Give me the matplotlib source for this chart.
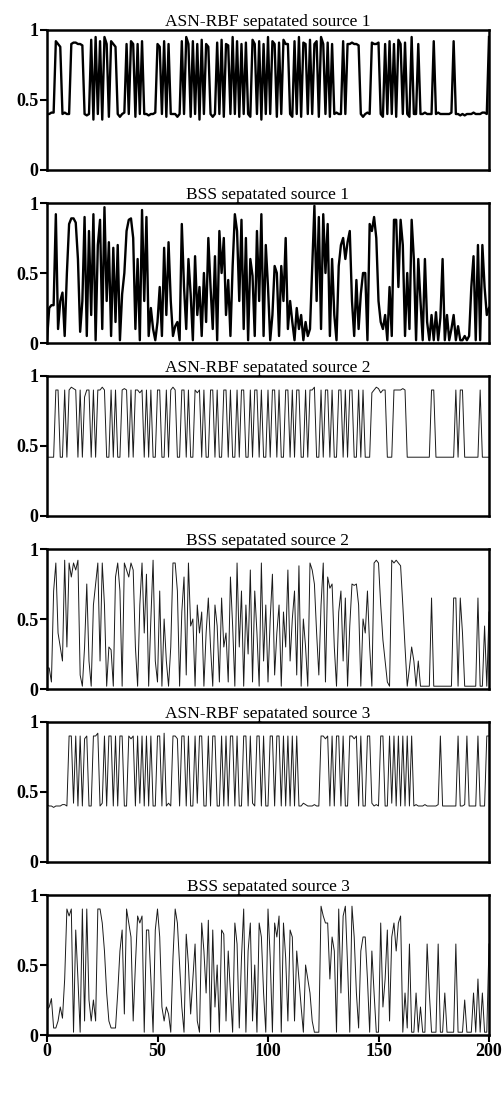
import matplotlib
matplotlib.use("Agg")
import matplotlib.pyplot as plt
import numpy as np

# ============ values (sample index 0..200) ============

asn_1 = [0.40,0.40,0.41,0.41,0.92,0.90,0.88,0.40,0.41,0.40,
         0.40,0.90,0.91,0.91,0.90,0.90,0.89,0.40,0.39,0.40,
         0.93,0.36,0.95,0.40,0.92,0.36,0.95,0.90,0.38,0.92,
         0.90,0.88,0.40,0.38,0.40,0.41,0.90,0.40,0.92,0.90,
         0.38,0.90,0.40,0.92,0.40,0.40,0.39,0.40,0.40,0.41,
         0.90,0.88,0.40,0.92,0.38,0.90,0.40,0.40,0.40,0.38,
         0.40,0.92,0.40,0.95,0.90,0.38,0.92,0.40,0.90,0.36,
         0.93,0.40,0.90,0.88,0.40,0.38,0.40,0.91,0.40,0.93,
         0.38,0.90,0.89,0.40,0.95,0.40,0.92,0.38,0.90,0.40,
         0.91,0.40,0.38,0.93,0.90,0.40,0.92,0.36,0.90,0.40,
         0.95,0.40,0.92,0.90,0.38,0.91,0.40,0.93,0.90,0.90,
         0.40,0.38,0.92,0.40,0.95,0.38,0.91,0.90,0.40,0.93,
         0.40,0.90,0.92,0.38,0.95,0.90,0.40,0.91,0.38,0.90,
         0.40,0.41,0.40,0.40,0.92,0.40,0.90,0.90,0.91,0.90,
         0.90,0.89,0.40,0.38,0.40,0.41,0.40,0.91,0.90,0.90,
         0.91,0.40,0.38,0.90,0.40,0.92,0.40,0.90,0.38,0.93,
         0.90,0.40,0.91,0.40,0.38,0.95,0.40,0.40,0.90,0.40,
         0.40,0.41,0.40,0.40,0.40,0.92,0.40,0.41,0.40,0.40,
         0.40,0.40,0.40,0.41,0.92,0.40,0.40,0.39,0.40,0.39,
         0.40,0.40,0.40,0.41,0.40,0.40,0.40,0.41,0.41,0.40,
         0.95]

bss_1 = [0.02,0.25,0.27,0.27,0.92,0.10,0.30,0.36,0.05,0.50,
         0.85,0.89,0.89,0.86,0.60,0.08,0.30,0.90,0.05,0.80,
         0.20,0.92,0.02,0.70,0.88,0.10,0.97,0.30,0.72,0.05,
         0.68,0.15,0.70,0.02,0.35,0.50,0.80,0.88,0.89,0.75,
         0.10,0.60,0.02,0.95,0.30,0.90,0.05,0.25,0.10,0.02,
         0.15,0.40,0.05,0.68,0.20,0.72,0.30,0.05,0.12,0.15,
         0.02,0.85,0.40,0.10,0.60,0.35,0.02,0.62,0.20,0.40,
         0.05,0.50,0.15,0.75,0.40,0.10,0.62,0.02,0.80,0.50,
         0.75,0.20,0.45,0.05,0.55,0.92,0.80,0.30,0.88,0.10,
         0.75,0.02,0.60,0.48,0.05,0.80,0.30,0.92,0.05,0.70,
         0.40,0.02,0.20,0.55,0.50,0.05,0.55,0.30,0.75,0.10,
         0.30,0.15,0.02,0.25,0.10,0.20,0.02,0.15,0.05,0.10,
         0.55,0.98,0.30,0.90,0.10,0.92,0.50,0.85,0.05,0.60,
         0.20,0.02,0.55,0.70,0.75,0.60,0.72,0.80,0.30,0.05,
         0.45,0.10,0.35,0.50,0.50,0.02,0.85,0.80,0.90,0.75,
         0.30,0.15,0.10,0.20,0.02,0.40,0.05,0.88,0.88,0.40,
         0.88,0.70,0.05,0.50,0.10,0.88,0.60,0.02,0.60,0.30,
         0.02,0.60,0.15,0.02,0.20,0.02,0.22,0.02,0.18,0.60,
         0.02,0.20,0.02,0.10,0.20,0.02,0.12,0.02,0.02,0.05,
         0.02,0.05,0.40,0.62,0.02,0.70,0.02,0.70,0.40,0.20,
         0.25]

asn_2 = [0.42,0.42,0.42,0.42,0.90,0.90,0.42,0.42,0.90,0.42,
         0.90,0.92,0.91,0.90,0.42,0.90,0.42,0.85,0.90,0.90,
         0.42,0.90,0.42,0.90,0.90,0.92,0.90,0.42,0.42,0.90,
         0.42,0.90,0.42,0.42,0.90,0.91,0.90,0.42,0.90,0.42,
         0.90,0.90,0.88,0.90,0.42,0.90,0.42,0.90,0.42,0.42,
         0.90,0.90,0.42,0.42,0.90,0.42,0.90,0.92,0.90,0.42,
         0.42,0.90,0.90,0.42,0.90,0.42,0.42,0.90,0.88,0.90,
         0.42,0.90,0.42,0.42,0.90,0.90,0.42,0.90,0.42,0.42,
         0.90,0.90,0.42,0.90,0.42,0.42,0.90,0.42,0.90,0.90,
         0.42,0.42,0.90,0.42,0.90,0.90,0.42,0.90,0.42,0.42,
         0.90,0.42,0.90,0.90,0.42,0.90,0.42,0.42,0.90,0.90,
         0.42,0.90,0.42,0.90,0.90,0.42,0.42,0.90,0.42,0.90,
         0.90,0.92,0.42,0.42,0.90,0.42,0.90,0.90,0.42,0.90,
         0.42,0.42,0.90,0.90,0.42,0.90,0.42,0.90,0.90,0.42,
         0.42,0.90,0.42,0.90,0.42,0.42,0.42,0.88,0.90,0.92,
         0.91,0.88,0.90,0.90,0.42,0.42,0.42,0.90,0.90,0.90,
         0.90,0.91,0.90,0.42,0.42,0.42,0.42,0.42,0.42,0.42,
         0.42,0.42,0.42,0.42,0.90,0.90,0.42,0.42,0.42,0.42,
         0.42,0.42,0.42,0.42,0.42,0.90,0.42,0.90,0.90,0.42,
         0.42,0.42,0.42,0.42,0.42,0.42,0.90,0.42,0.42,0.42,
         0.42]

bss_2 = [0.15,0.15,0.05,0.70,0.90,0.40,0.30,0.20,0.92,0.30,
         0.90,0.80,0.90,0.85,0.92,0.10,0.02,0.30,0.75,0.20,
         0.02,0.60,0.75,0.90,0.20,0.90,0.60,0.02,0.30,0.28,
         0.02,0.80,0.90,0.70,0.02,0.90,0.85,0.80,0.90,0.85,
         0.30,0.02,0.60,0.90,0.40,0.82,0.02,0.50,0.92,0.20,
         0.05,0.70,0.02,0.50,0.20,0.02,0.30,0.90,0.90,0.70,
         0.02,0.55,0.80,0.10,0.90,0.45,0.50,0.02,0.60,0.40,
         0.55,0.02,0.40,0.65,0.30,0.02,0.60,0.45,0.05,0.65,
         0.30,0.40,0.05,0.80,0.45,0.02,0.90,0.30,0.70,0.02,
         0.60,0.25,0.85,0.05,0.70,0.40,0.02,0.90,0.20,0.60,
         0.05,0.50,0.82,0.10,0.40,0.60,0.02,0.55,0.30,0.85,
         0.20,0.50,0.70,0.10,0.88,0.02,0.50,0.30,0.02,0.90,
         0.85,0.75,0.40,0.10,0.60,0.90,0.05,0.80,0.72,0.75,
         0.30,0.02,0.55,0.70,0.20,0.65,0.02,0.45,0.75,0.74,
         0.75,0.60,0.02,0.50,0.40,0.70,0.30,0.02,0.90,0.92,
         0.90,0.60,0.35,0.20,0.05,0.02,0.92,0.90,0.92,0.90,
         0.88,0.60,0.30,0.02,0.15,0.30,0.20,0.02,0.20,0.02,
         0.02,0.02,0.02,0.02,0.65,0.02,0.02,0.02,0.02,0.02,
         0.02,0.02,0.02,0.02,0.65,0.65,0.02,0.65,0.40,0.02,
         0.02,0.02,0.02,0.02,0.02,0.65,0.02,0.02,0.45,0.02,
         0.55]

asn_3 = [0.41,0.40,0.40,0.39,0.40,0.40,0.40,0.41,0.41,0.40,
         0.90,0.90,0.42,0.90,0.40,0.90,0.40,0.88,0.90,0.40,
         0.40,0.90,0.90,0.92,0.40,0.42,0.90,0.40,0.90,0.90,
         0.40,0.90,0.40,0.90,0.90,0.40,0.40,0.90,0.88,0.90,
         0.40,0.90,0.42,0.90,0.40,0.90,0.40,0.90,0.40,0.40,
         0.90,0.90,0.40,0.92,0.40,0.42,0.40,0.90,0.90,0.88,
         0.40,0.90,0.90,0.40,0.90,0.40,0.40,0.90,0.42,0.90,
         0.90,0.40,0.40,0.90,0.40,0.90,0.90,0.40,0.40,0.90,
         0.40,0.90,0.40,0.90,0.90,0.40,0.90,0.40,0.40,0.90,
         0.90,0.40,0.90,0.42,0.40,0.90,0.90,0.40,0.90,0.40,
         0.40,0.90,0.90,0.40,0.90,0.90,0.40,0.90,0.40,0.90,
         0.40,0.90,0.40,0.90,0.40,0.40,0.42,0.41,0.40,0.40,
         0.40,0.41,0.40,0.40,0.90,0.90,0.88,0.90,0.40,0.90,
         0.40,0.90,0.90,0.40,0.90,0.40,0.40,0.90,0.90,0.88,
         0.90,0.40,0.90,0.40,0.40,0.90,0.90,0.42,0.40,0.41,
         0.40,0.90,0.90,0.40,0.40,0.90,0.42,0.90,0.40,0.90,
         0.40,0.90,0.40,0.90,0.40,0.90,0.40,0.41,0.40,0.40,
         0.40,0.41,0.40,0.40,0.40,0.40,0.40,0.41,0.90,0.40,
         0.40,0.40,0.40,0.40,0.40,0.40,0.90,0.40,0.40,0.41,
         0.90,0.40,0.40,0.40,0.40,0.90,0.40,0.40,0.40,0.90,
         0.90]

bss_3 = [0.18,0.20,0.26,0.05,0.05,0.10,0.20,0.12,0.40,0.90,
         0.85,0.90,0.02,0.75,0.40,0.02,0.90,0.10,0.90,0.25,
         0.10,0.25,0.10,0.90,0.90,0.80,0.60,0.30,0.10,0.05,
         0.05,0.05,0.30,0.60,0.75,0.15,0.90,0.80,0.70,0.10,
         0.50,0.85,0.80,0.85,0.02,0.75,0.75,0.40,0.02,0.75,
         0.90,0.70,0.20,0.10,0.20,0.15,0.02,0.55,0.90,0.80,
         0.50,0.20,0.02,0.72,0.50,0.15,0.40,0.65,0.10,0.02,
         0.80,0.60,0.30,0.82,0.02,0.75,0.20,0.50,0.02,0.75,
         0.72,0.10,0.60,0.30,0.02,0.80,0.65,0.05,0.55,0.90,
         0.02,0.60,0.80,0.10,0.50,0.02,0.80,0.70,0.30,0.02,
         0.90,0.55,0.02,0.80,0.70,0.85,0.02,0.80,0.55,0.10,
         0.75,0.70,0.10,0.60,0.40,0.20,0.02,0.50,0.40,0.30,
         0.10,0.02,0.02,0.02,0.92,0.85,0.80,0.80,0.40,0.70,
         0.60,0.02,0.90,0.30,0.85,0.92,0.50,0.02,0.92,0.70,
         0.30,0.05,0.60,0.70,0.70,0.40,0.02,0.60,0.30,0.02,
         0.02,0.80,0.20,0.40,0.75,0.10,0.70,0.80,0.60,0.80,
         0.85,0.02,0.30,0.05,0.65,0.02,0.02,0.30,0.02,0.20,
         0.02,0.02,0.65,0.30,0.02,0.02,0.02,0.65,0.02,0.02,
         0.30,0.02,0.02,0.02,0.02,0.65,0.02,0.02,0.02,0.25,
         0.02,0.02,0.02,0.30,0.02,0.40,0.02,0.30,0.02,0.02,
         0.65]

titles = ["ASN-RBF sepatated source 1", "BSS sepatated source 1",
          "ASN-RBF sepatated source 2", "BSS sepatated source 2",
          "ASN-RBF sepatated source 3", "BSS sepatated source 3"]
series = [asn_1, bss_1, asn_2, bss_2, asn_3, bss_3]
widths = [1.7, 1.7, 0.7, 0.7, 0.7, 0.7]
colors = ['black', 'black', '#1a1a1a', '#1a1a1a', '#1a1a1a', '#1a1a1a']

plt.rcParams['font.family'] = ['Liberation Serif', 'DejaVu Serif']

# ================= layout in pixels of a 503x1102 picture =================
W, H = 503, 1102
fig = plt.figure(figsize=(W/100, H/100), dpi=100)

left, right = 47, 489
top0, panel_h, step = 30, 140, 173

for i in range(6):
    y = np.array(series[i])
    x = np.arange(len(y)) * 200.0 / (len(y) - 1)
    top = top0 + i*step
    ax = fig.add_axes([left/W, 1 - (top + panel_h)/H, (right-left)/W, panel_h/H])
    ax.plot(x, y, color=colors[i], lw=widths[i])
    ax.set_xlim(0, 200)
    ax.set_ylim(0, 1)
    ax.set_yticks([0, 0.5, 1])
    ax.set_yticklabels(["0", "0.5", "1"], fontsize=13, fontweight='bold')
    for s in ax.spines.values():
        s.set_linewidth(1.8)
    ax.tick_params(axis='y', direction='out', length=5, width=1.5, pad=1)
    if i == 5:
        ax.set_xticks([0, 50, 100, 150, 200])
        ax.set_xticklabels(["0", "50", "100", "150", "200"], fontsize=13, fontweight='bold')
        ax.tick_params(axis='x', direction='out', length=5, width=1.5, pad=1)
    else:
        ax.set_xticks([])
    ax.set_title(titles[i], fontsize=12.5, pad=2)

plt.savefig("out.png", dpi=100)
